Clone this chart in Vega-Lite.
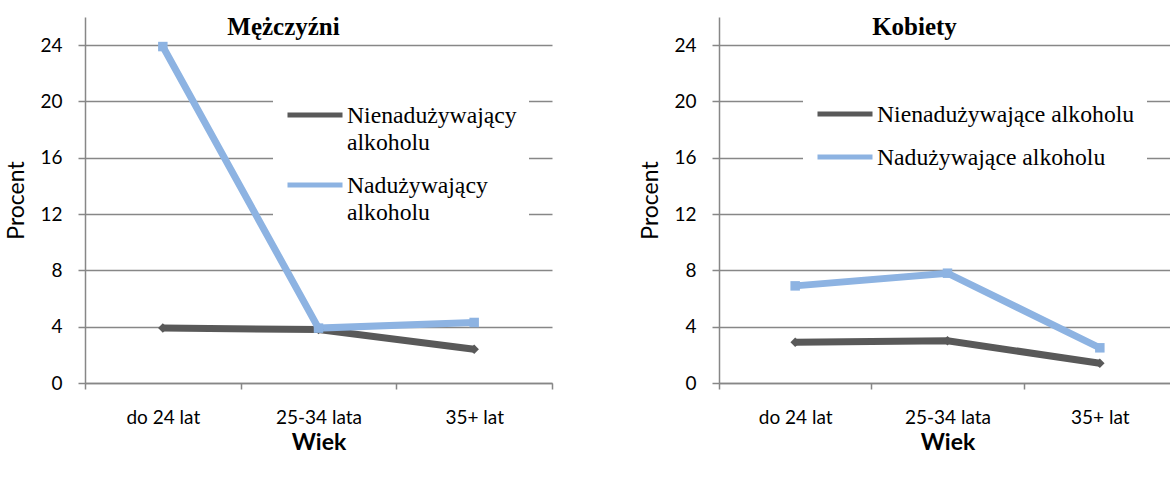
{
  "$schema": "https://vega.github.io/schema/vega-lite/v6.json",
  "background": "white",
  "padding": {"left": 5, "top": 15, "right": 0, "bottom": 5},
  "config": {
    "view": {"stroke": null},
    "font": "Lato",
    "concat": {"spacing": 86},
    "axisX": {
      "labelAngle": 0, "labelFontSize": 19, "labelColor": "#000", "labelPadding": 19,
      "domainColor": "#878787", "domainWidth": 1.5, "tickColor": "#878787", "tickWidth": 1.5, "tickSize": 6,
      "tickBand": "extent", "grid": false,
      "titleFontSize": 23, "titleFontWeight": "bold", "titleColor": "#000", "titlePadding": 4
    },
    "axisY": {
      "labelFontSize": 19, "labelColor": "#000", "labelPadding": 16,
      "domainColor": "#878787", "domainWidth": 1.5, "tickColor": "#878787", "tickWidth": 1.5, "tickSize": 7,
      "grid": true, "gridColor": "#878787", "gridWidth": 1.5,
      "titleFontSize": 23, "titleFontWeight": "normal", "titleColor": "#000", "titlePadding": 11
    },
    "legend": {
      "labelFont": "Liberation Serif", "labelFontSize": 23.7, "labelColor": "#000", "labelLimit": 500,
      "symbolType": "stroke", "symbolSize": 3025, "symbolStrokeWidth": 5, "labelOffset": 2, "fillColor": "white", "padding": 12
    },
    "title": {"font": "Liberation Serif", "fontSize": 25, "fontWeight": "bold", "color": "#000", "anchor": "middle", "baseline": "alphabetic", "offset": -23}
  },
  "data": {
    "values": [
      {"panel": "M", "group": "Nienadużywający alkoholu", "age": "do 24 lat", "value": 3.9},
      {"panel": "M", "group": "Nienadużywający alkoholu", "age": "25-34 lata", "value": 3.8},
      {"panel": "M", "group": "Nienadużywający alkoholu", "age": "35+ lat", "value": 2.4},
      {"panel": "M", "group": "Nadużywający alkoholu", "age": "do 24 lat", "value": 23.9},
      {"panel": "M", "group": "Nadużywający alkoholu", "age": "25-34 lata", "value": 3.9},
      {"panel": "M", "group": "Nadużywający alkoholu", "age": "35+ lat", "value": 4.3},
      {"panel": "K", "group": "Nienadużywające alkoholu", "age": "do 24 lat", "value": 2.9},
      {"panel": "K", "group": "Nienadużywające alkoholu", "age": "25-34 lata", "value": 3.0},
      {"panel": "K", "group": "Nienadużywające alkoholu", "age": "35+ lat", "value": 1.4},
      {"panel": "K", "group": "Nadużywające alkoholu", "age": "do 24 lat", "value": 6.9},
      {"panel": "K", "group": "Nadużywające alkoholu", "age": "25-34 lata", "value": 7.8},
      {"panel": "K", "group": "Nadużywające alkoholu", "age": "35+ lat", "value": 2.5}
    ]
  },
  "hconcat": [
    {
      "title": {"text": "Mężczyźni", "dx": -35},
      "width": 467,
      "height": 366,
      "transform": [{"filter": "datum.panel == 'M'"}],
      "encoding": {
        "x": {"field": "age", "type": "nominal", "sort": ["do 24 lat", "25-34 lata", "35+ lat"], "bandPosition": 0.5,
              "scale": {"type": "band", "paddingInner": 0, "paddingOuter": 0}, "title": "Wiek"},
        "y": {"field": "value", "type": "quantitative", "scale": {"domain": [0, 26], "nice": false},
              "axis": {"values": [0, 4, 8, 12, 16, 20, 24]}, "title": "Procent"}
      },
      "layer": [
        {
          "mark": {"type": "line", "strokeWidth": 7},
          "encoding": {
            "color": {"field": "group", "type": "nominal",
              "scale": {"domain": ["Nienadużywający alkoholu", "Nadużywający alkoholu"], "range": ["#595959", "#8DB3E2"]},
              "legend": {"title": null, "orient": "none", "legendX": 188, "legendY": 56, "rowPadding": -13,
                "labelBaseline": "alphabetic",
                "labelExpr": "split(datum.label, ' ')",
                "encode": {"labels": {"update": {"dy": {"value": 8}, "lineHeight": {"value": 27}}}}}
            }
          }
        },
        {
          "mark": {"type": "point", "filled": true, "opacity": 1, "size": 90},
          "encoding": {
            "fill": {"condition": {"test": "indexof(datum.group, 'Nie') === 0", "value": "#595959"}, "value": "#8DB3E2"},
            "shape": {"condition": {"test": "indexof(datum.group, 'Nie') === 0", "value": "diamond"}, "value": "square"}
          }
        }
      ]
    },
    {
      "title": {"text": "Kobiety", "dx": -33},
      "width": 457,
      "height": 366,
      "transform": [{"filter": "datum.panel == 'K'"}],
      "encoding": {
        "x": {"field": "age", "type": "nominal", "sort": ["do 24 lat", "25-34 lata", "35+ lat"], "bandPosition": 0.5,
              "scale": {"type": "band", "paddingInner": 0, "paddingOuter": 0}, "title": "Wiek"},
        "y": {"field": "value", "type": "quantitative", "scale": {"domain": [0, 26], "nice": false},
              "axis": {"values": [0, 4, 8, 12, 16, 20, 24]}, "title": "Procent"}
      },
      "layer": [
        {
          "mark": {"type": "line", "strokeWidth": 7},
          "encoding": {
            "color": {"field": "group", "type": "nominal",
              "scale": {"domain": ["Nienadużywające alkoholu", "Nadużywające alkoholu"], "range": ["#595959", "#8DB3E2"]},
              "legend": {"title": null, "orient": "none", "legendX": 84, "legendY": 55, "rowPadding": -1,
                "labelBaseline": "alphabetic",
                "encode": {"labels": {"update": {"dy": {"value": 8}}}}}
            }
          }
        },
        {
          "mark": {"type": "point", "filled": true, "opacity": 1, "size": 90},
          "encoding": {
            "fill": {"condition": {"test": "indexof(datum.group, 'Nie') === 0", "value": "#595959"}, "value": "#8DB3E2"},
            "shape": {"condition": {"test": "indexof(datum.group, 'Nie') === 0", "value": "diamond"}, "value": "square"}
          }
        }
      ]
    }
  ],
  "resolve": {"scale": {"color": "independent", "x": "independent", "y": "independent"}, "legend": {"color": "independent"}}
}
